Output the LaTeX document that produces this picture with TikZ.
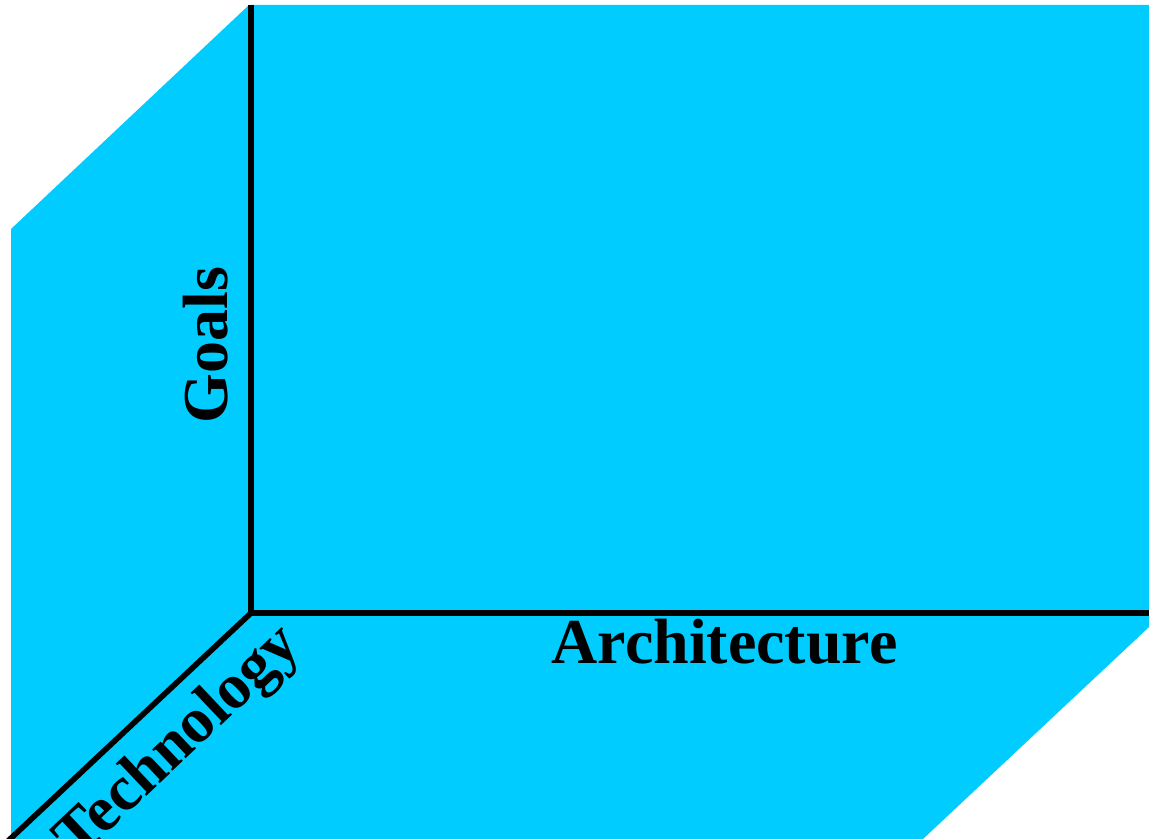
\documentclass[tikz,border=0pt]{standalone}
\usepackage{xcolor}
\usepackage{fontspec}
\setmainfont{Liberation Serif}
\usepackage{tikz}
\usetikzlibrary{positioning}
\definecolor{facecol}{RGB}{0,204,255}
\tikzset{
  face/.style  ={fill=facecol, draw=none},
  axis/.style  ={draw=black, line width=2.8pt},
  axlbl/.style ={font=\fontsize{32}{38}\selectfont\bfseries, inner sep=0pt, anchor=base},
}
\begin{document}
\begin{tikzpicture}[x=0.5pt, y=-0.5pt]
    \useasboundingbox (0,0) rectangle (1149,839);
    % corners of the box
    \coordinate (tl) at (11,229);
    \coordinate (tt) at (249,5);
    \coordinate (tr) at (1149,5);
    \coordinate (rr) at (1149,627);
    \coordinate (br) at (923,839);
    \coordinate (bl) at (11,839);
    \coordinate (o)  at (251,613);
    \coordinate (up) at (251,5);
    \coordinate (ar) at (1149,613);
    \coordinate (tk) at (8,841);

    \fill[face] (tl) -- (tt) -- (tr) -- (rr) -- (br) -- (bl) -- cycle;

    \draw[axis] (up) -- (o) -- (ar);
    \draw[axis] (o) -- (tk);

    \node[axlbl, rotate=90] (goals) at (227,345) {Goals};
    \node[axlbl] (arch) at (724.5,663) {Architecture};
    \node[axlbl, rotate=43.4] (tech) at (190,755) {Technology};
  \end{tikzpicture}
\end{document}
